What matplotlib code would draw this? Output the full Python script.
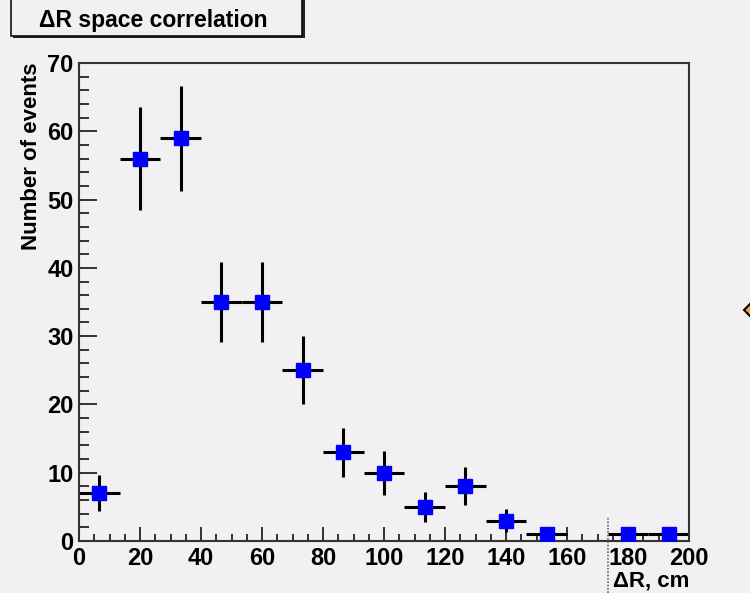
#!/usr/bin/env python3

import matplotlib.pyplot as plt
from matplotlib.ticker import MultipleLocator
from matplotlib.patches import Rectangle, Polygon

# histogram: 15 bins from 0 to 200 cm
bin_lo = 0.0
bin_hi = 200.0
n_bins = 15
counts = [7, 56, 59, 35, 35, 25, 13, 10, 5, 8, 3, 1, 0, 1, 1]
errors = [2.6, 7.5, 7.7, 5.9, 5.9, 5.0, 3.6, 3.2, 2.2, 2.8, 1.7, 1.0, 0.0, 1.0, 1.0]

title = '\u0394R space correlation'
xlabel = '\u0394R, cm'
ylabel = 'Number of events'

bg = '#f2f0f3'
font = 'Liberation Sans'


def main():
    plt.rcParams['font.family'] = [font, 'DejaVu Sans']
    plt.rcParams['font.weight'] = 'bold'

    W, H = 750, 593
    fig = plt.figure(figsize=(W / 100, H / 100), dpi=100, facecolor=bg)
    ax = fig.add_axes([79 / W, 1 - 541 / H, (689 - 79) / W, (541 - 63) / H])
    ax.set_facecolor(bg)

    width = (bin_hi - bin_lo) / n_bins
    xs, ys, es = [], [], []
    for i, (c, e) in enumerate(zip(counts, errors)):
        if c <= 0:
            continue
        xs.append(bin_lo + (i + 0.5) * width)
        ys.append(c)
        es.append(e)

    ax.errorbar(xs, ys, xerr=width / 2, yerr=es, fmt='none',
                ecolor='black', elinewidth=2.2, capsize=0, zorder=2)
    ax.plot(xs, ys, 's', color='#0000ff', markersize=9.5, zorder=3)

    ax.set_xlim(bin_lo, bin_hi)
    ax.set_ylim(0, 70)
    ax.xaxis.set_major_locator(MultipleLocator(20))
    ax.xaxis.set_minor_locator(MultipleLocator(5))
    ax.yaxis.set_major_locator(MultipleLocator(10))
    ax.yaxis.set_minor_locator(MultipleLocator(2))
    ax.tick_params(axis='both', which='both', direction='in', top=False,
                   right=False, colors='#222222', labelcolor='black',
                   labelsize=17)
    ax.tick_params(axis='x', which='major', length=10, width=1.3, pad=4)
    ax.tick_params(axis='x', which='minor', length=5, width=1.3)
    ax.tick_params(axis='y', which='major', length=13, width=1.3, pad=4)
    ax.tick_params(axis='y', which='minor', length=7, width=1.3)
    for lab in ax.get_xticklabels() + ax.get_yticklabels():
        lab.set_fontweight('bold')
    for s in ax.spines.values():
        s.set_color('#333333')
        s.set_linewidth(1.5)

    ax.set_xlabel(xlabel, fontsize=16, fontweight='bold', loc='right',
                  labelpad=1)
    ax.set_ylabel(ylabel, fontsize=16, fontweight='bold', loc='top',
                  labelpad=4)

    # dotted line at the edge of the empty bin
    edge = bin_lo + 13 * width
    ax.plot([edge, edge], [3.3, -7.7], color='#666666', lw=1.2,
            linestyle=(0, (1, 1)), clip_on=False, zorder=4)

    # title box with shadow
    fig.patches.append(Rectangle((13 / W, 1 - 38 / H), 292 / W, 50 / H,
                                 transform=fig.transFigure, facecolor='#222222',
                                 edgecolor='none'))
    fig.patches.append(Rectangle((11 / W, 1 - 36 / H), 291 / W, 50 / H,
                                 transform=fig.transFigure, facecolor=bg,
                                 edgecolor='#111111', linewidth=1.2))
    fig.text(153 / W, 1 - 21 / H, title, fontsize=16.5, fontweight='bold',
             ha='center', va='center')

    # partial orange marker at the right edge
    fig.patches.append(Polygon([(744 / W, 1 - 310 / H), (758 / W, 1 - 296 / H),
                                (772 / W, 1 - 310 / H), (758 / W, 1 - 324 / H)],
                               closed=True, transform=fig.transFigure,
                               facecolor='#f5a03c', edgecolor='black',
                               linewidth=1.5))

    plt.savefig('out.png', dpi=100, facecolor=bg)


if __name__ == '__main__':
    main()
